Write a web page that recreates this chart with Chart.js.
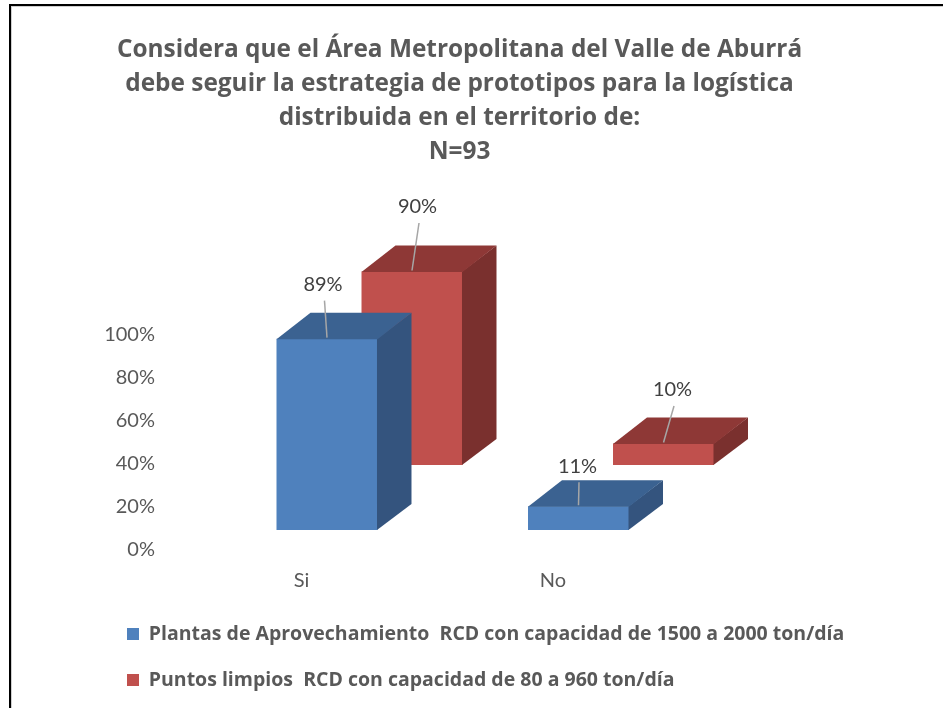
<!DOCTYPE html>
<html><head><meta charset="utf-8">
<script src="https://cdn.jsdelivr.net/npm/chart.js@4"></script>
<style>
html,body{margin:0;padding:0;background:#fff;overflow:hidden;width:943px;height:708px;}
#wrap{position:relative;width:943px;height:708px;overflow:hidden;}
canvas{position:absolute;left:0;top:0;}
#frame{position:absolute;left:9px;top:4px;width:1000px;height:1000px;border-left:2px solid #000;border-top:2px solid #000;box-shadow:inset 1px 1px 0 #cfcfcf;pointer-events:none;}
</style></head>
<body><div id="wrap"><canvas id="c" width="943" height="708"></canvas><div id="frame"></div></div>
<script>
// ---- data ----
const categories = ['Si', 'No'];
const seriesNames = [
  'Plantas de Aprovechamiento  RCD con capacidad de 1500 a 2000 ton/día',
  'Puntos limpios  RCD con capacidad de 80 a 960 ton/día'
];
const plantasValues = [89, 11];
const puntosValues = [90, 10];
const yTickStep = 20;
const yMin = 0;
const yMax = 100;
const titleLines = [
  'Considera que el Área Metropolitana del Valle de Aburrá',
  'debe seguir la estrategia de prototipos para la logística',
  'distribuida en el territorio de:',
  'N=93'
];

// ---- styles ----
const frontColors = ['#4F81BD', '#C0504D'];
const topColors = ['#3B6291', '#8E3836'];
const sideColors = ['#34547E', '#7A302E'];
const depthDx = 34, depthDy = -26;
const labelOffsets = [[[-4, -54], [-1, -40]], [[5.5, -64.5], [9, -53.5]]];
const textColor = '#595959';

const bar3d = {
  id: 'bar3d',
  afterDatasetDraw(chart, args) {
    const ctx = chart.ctx;
    const i = args.index;
    ctx.save();
    args.meta.data.forEach(el => {
      const p = el.getProps(['x', 'y', 'base', 'width'], true);
      const l = p.x - p.width / 2, r = p.x + p.width / 2, t = p.y, b = p.base;
      ctx.fillStyle = sideColors[i];
      ctx.beginPath();
      ctx.moveTo(r - 0.5, t); ctx.lineTo(r + depthDx, t + depthDy);
      ctx.lineTo(r + depthDx, b + depthDy); ctx.lineTo(r - 0.5, b);
      ctx.closePath(); ctx.fill();
      ctx.fillStyle = topColors[i];
      ctx.beginPath();
      ctx.moveTo(l, t + 0.5); ctx.lineTo(l + depthDx, t + depthDy);
      ctx.lineTo(r + depthDx, t + depthDy); ctx.lineTo(r, t + 0.5);
      ctx.closePath(); ctx.fill();
    });
    ctx.restore();
  }
};

const dataLabels = {
  id: 'dataLabels',
  afterDatasetsDraw(chart) {
    const ctx = chart.ctx;
    ctx.save();
    chart.data.datasets.forEach((ds, di) => {
      const meta = chart.getDatasetMeta(di);
      meta.data.forEach((el, k) => {
        const p = el.getProps(['x', 'y'], true);
        const off = labelOffsets[di][k];
        const lx = p.x + off[0], ly = p.y + off[1];
        ctx.strokeStyle = '#A6A6A6';
        ctx.lineWidth = 1.5;
        ctx.beginPath();
        ctx.moveTo(lx + 1.5, ly + 16);
        ctx.lineTo(p.x, p.y - 1);
        ctx.stroke();
        ctx.fillStyle = '#404040';
        ctx.font = '20px Lato';
        ctx.textAlign = 'center';
        ctx.textBaseline = 'middle';
        ctx.fillText(ds.data[k] + '%', lx, ly);
      });
    });
    ctx.restore();
  }
};

// let the legend text run past the title's box on the right (no clipping)
const legendWiden = {
  id: 'legendWiden',
  afterLayout(chart) {
    const lg = chart.legend;
    if (lg) { lg.right = chart.width; lg.width = chart.width - lg.left; }
  }
};

new Chart(document.getElementById('c'), {
  type: 'bar',
  data: {
    labels: categories,
    datasets: [
      { label: seriesNames[0], data: plantasValues, backgroundColor: frontColors[0], yAxisID: 'yb', clip: false,
        categoryPercentage: 0.676, barPercentage: 1.188 },
      { label: seriesNames[1], data: puntosValues, backgroundColor: frontColors[1], yAxisID: 'yr', clip: false,
        categoryPercentage: 0.676, barPercentage: 1.188 }
    ]
  },
  options: {
    responsive: false,
    animation: false,
    layout: { padding: { left: 100.5, right: 124.5, top: 33, bottom: 8.25 } },
    plugins: {
      title: {
        display: true,
        text: titleLines,
        color: textColor,
        font: { family: 'Open Sans', size: 24.4, weight: 'bold', lineHeight: '34px' },
        padding: { top: 0, bottom: 166 }
      },
      legend: {
        display: true,
        position: 'bottom',
        align: 'start',
        labels: {
          color: textColor,
          font: { family: 'Open Sans', size: 19.5, weight: 'bold' },
          boxWidth: 12, boxHeight: 12, padding: 26.5
        }
      },
      tooltip: { enabled: false }
    },
    scales: {
      x: {
        offset: true,
        grid: { display: false, drawTicks: false },
        border: { display: false },
        ticks: { color: textColor, font: { family: 'Lato', size: 20 }, padding: 19, labelOffset: -68 },
        afterFit(s) { s.height = 47.75; }
      },
      y: {
        type: 'linear', position: 'left', min: yMin, max: yMax,
        grid: { display: false, drawTicks: false },
        border: { display: false },
        ticks: { stepSize: yTickStep, color: textColor, font: { family: 'Lato', size: 20 }, padding: 88.75,
          callback: v => v + '%' },
        afterFit(s) { s.width = 143.25; }
      },
      yb: {
        type: 'linear', display: false, min: -9.302, max: 90.698
      },
      yr: {
        type: 'linear', position: 'right', display: true, min: -39.535, max: 60.465,
        grid: { display: false, drawTicks: false },
        border: { display: false },
        ticks: { display: false },
        afterFit(s) { s.width = 71.75; }
      }
    }
  },
  plugins: [bar3d, dataLabels, legendWiden]
});
</script>
</body></html>
